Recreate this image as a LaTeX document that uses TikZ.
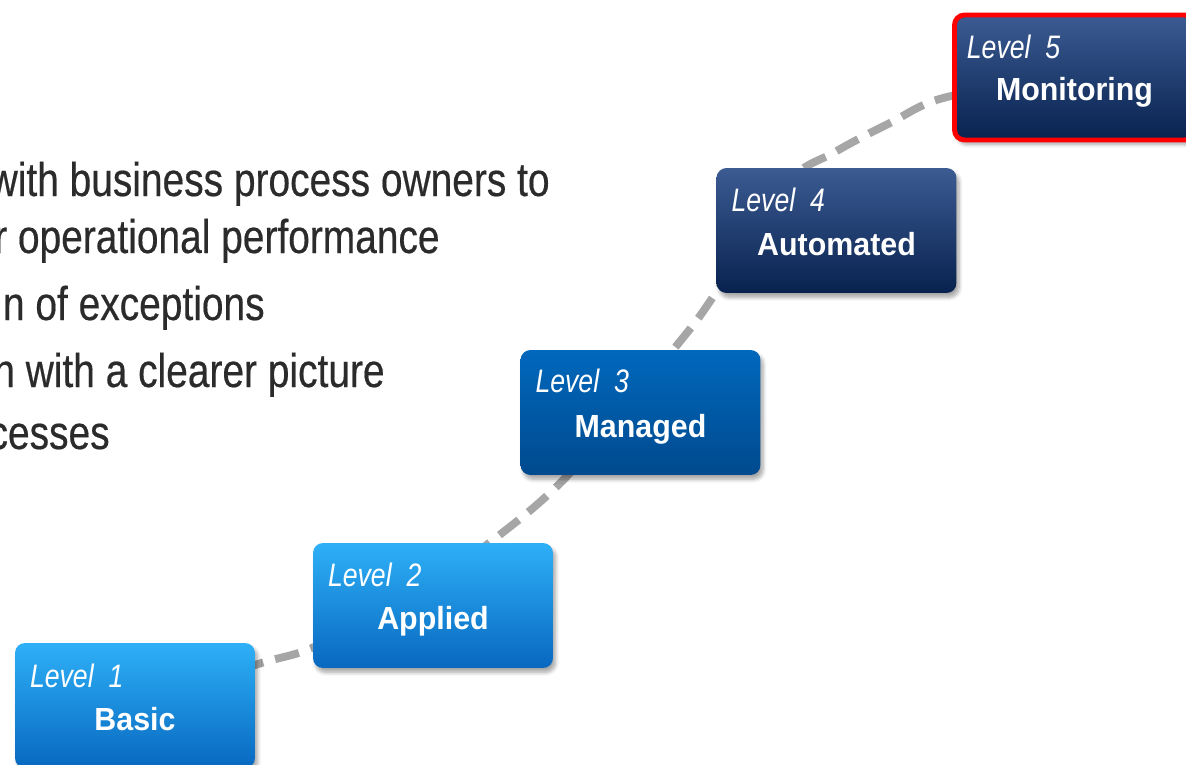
\documentclass[tikz,border=0pt]{standalone}
\usepackage{fontspec}
\setmainfont{Liberation Sans}
\newfontfamily\narrowsans{Liberation Sans}[FakeStretch=0.82]
\newfontfamily\bodysans{Liberation Sans}[FakeStretch=0.82,FakeBold=0.4]
\newfontfamily\labelsans{Liberation Sans}[FakeStretch=0.95]
\usetikzlibrary{calc,shadows.blur}
\pgfdeclarelayer{background}
\pgfsetlayers{background,main}
\definecolor{bodytext}{HTML}{2B2B2B}
\definecolor{pathgray}{HTML}{A6A6A6}
\definecolor{ltop}{HTML}{2EB0F7}
\definecolor{lbot}{HTML}{0868C0}
\definecolor{mtop}{HTML}{0068BC}
\definecolor{mbot}{HTML}{004A8E}
\definecolor{dtop}{HTML}{3B5B92}
\definecolor{dbot}{HTML}{08224F}
\definecolor{alertred}{HTML}{FF0000}
\tikzset{
  levelbox/.style={rectangle, rounded corners=0.2cm, minimum width=4.8cm,
    minimum height=2.5cm, inner sep=0pt, draw=none,
    blur shadow={shadow blur steps=6, shadow xshift=1.5pt, shadow yshift=-2.5pt, shadow opacity=35}},
  lightbox/.style={levelbox, top color=ltop, bottom color=lbot},
  midbox/.style={levelbox, top color=mtop, bottom color=mbot},
  darkbox/.style={levelbox, top color=dtop, bottom color=dbot},
  lvltext/.style={text=white, inner sep=0pt, anchor=base west,
    font=\narrowsans\itshape\fontsize{18.5}{21}\selectfont},
  nametext/.style={text=white, inner sep=0pt, anchor=base,
    font=\labelsans\bfseries\fontsize{18.2}{21}\selectfont},
  bodyline/.style={text=bodytext, inner sep=0pt, anchor=base east,
    font=\bodysans\fontsize{27}{32}\selectfont},
  pathline/.style={draw=pathgray, line width=4.5pt, dash pattern=on 14pt off 7pt}
}
\begin{document}
\begin{tikzpicture}[x=0.02cm,y=-0.02cm]
\useasboundingbox (0,0) rectangle (1186,764);
\clip (0,0) rectangle (1186,764);

% body text (clipped at left edge)
\node[bodyline] (l1) at (550,196) {with business process owners to};
\node[bodyline] (l2) at (440,253) {r operational performance};
\node[bodyline] (l3) at (265,320) {n of exceptions};
\node[bodyline] (l4) at (385,387) {n with a clearer picture};
\node[bodyline] (l5) at (110,449) {cesses};

% level boxes
\node[lightbox] (b1) at (135,705.5) {};
\node[lightbox] (b2) at (433,605.5) {};
\node[midbox]   (b3) at (640.5,412.5) {};
\node[darkbox]  (b4) at (836.5,230.5) {};
\node[darkbox, draw=alertred, line width=2.8pt] (b5) at (1074.5,77.5) {};

% labels
\node[lvltext]  (t1) at ($(b1.north west)+(15,45)$) {Level\ \ 1};
\node[nametext] (n1) at ($(b1.north)+(0,88)$) {Basic};
\node[lvltext]  (t2) at ($(b2.north west)+(15,44)$) {Level\ \ 2};
\node[nametext] (n2) at ($(b2.north)+(0,87)$) {Applied};
\node[lvltext]  (t3) at ($(b3.north west)+(15,43)$) {Level\ \ 3};
\node[nametext] (n3) at ($(b3.north)+(0,88)$) {Managed};
\node[lvltext]  (t4) at ($(b4.north west)+(15,44)$) {Level\ \ 4};
\node[nametext] (n4) at ($(b4.north)+(0,88)$) {Automated};
\node[lvltext]  (t5) at ($(b5.north west)+(14.5,45.5)$) {Level\ \ 5};
\node[nametext] (n5) at ($(b5.north)+(0,87.5)$) {Monitoring};

% dashed maturity path behind the boxes
\begin{pgfonlayer}{background}
\draw[pathline] plot[smooth, tension=0.55] coordinates {(b1.center) (255,665) (312,648) (400,605) (493,540) (570,473) (673,350) (713,297) (785,185) (835,152) (890,123) (947,97) (b5.center)};
\end{pgfonlayer}
\end{tikzpicture}
\end{document}
